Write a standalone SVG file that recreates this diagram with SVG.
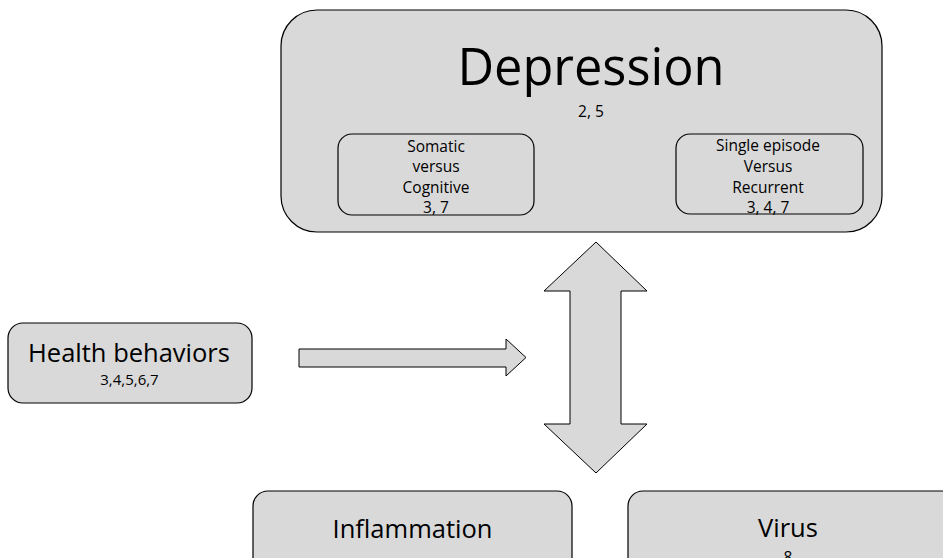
<svg xmlns="http://www.w3.org/2000/svg" width="943" height="558" viewBox="0 0 943 558">
<style>
.box{fill:#d9d9d9;stroke:#000;stroke-width:1.2}
.arr{fill:#d9d9d9;stroke:#000;stroke-width:1}
text{font-family:"Open Sans","Liberation Sans",sans-serif;fill:#000;text-anchor:middle}
.s{font-size:15.5px}
.m{font-size:25.5px}
</style>
<rect width="943" height="558" fill="#fff"/>
<g id="depression">
<rect class="box" x="281" y="10" width="601" height="222" rx="36" ry="36"/>
<text x="591" y="85" style="font-size:50.5px">Depression</text>
<text class="s" x="591" y="117">2, 5</text>
</g>
<g id="somatic">
<rect class="box" x="338" y="134" width="196" height="81" rx="14" ry="14"/>
<text class="s" x="436" y="152">Somatic</text>
<text class="s" x="436" y="172">versus</text>
<text class="s" x="436" y="193">Cognitive</text>
<text class="s" x="436" y="213">3, 7</text>
</g>
<g id="episode">
<rect class="box" x="676" y="134" width="187" height="80" rx="14" ry="14"/>
<text class="s" x="768" y="151">Single episode</text>
<text class="s" x="768" y="172">Versus</text>
<text class="s" x="768" y="193">Recurrent</text>
<text class="s" x="768" y="213">3, 4, 7</text>
</g>
<g id="health">
<rect class="box" x="8" y="323" width="244" height="80" rx="15" ry="15"/>
<text class="m" x="129" y="362">Health behaviors</text>
<text x="129.5" y="385" style="font-size:15px">3,4,5,6,7</text>
</g>
<g id="inflammation">
<rect class="box" x="253" y="491" width="319" height="90" rx="15" ry="15"/>
<text class="m" x="412.5" y="538">Inflammation</text>
</g>
<g id="virus">
<rect class="box" x="628" y="491" width="330" height="90" rx="15" ry="15"/>
<text class="m" x="788" y="537">Virus</text>
<text class="s" x="788" y="563">8</text>
</g>
<g id="connectors">
<polygon class="arr" points="299,349 506,349 506,339 526,357.5 506,376 506,367 299,367"/>
<polygon class="arr" points="596,242 647,291 621,291 621,424 647,424 596,473 544,424 570,424 570,291 544,291"/>
</g>
</svg>
